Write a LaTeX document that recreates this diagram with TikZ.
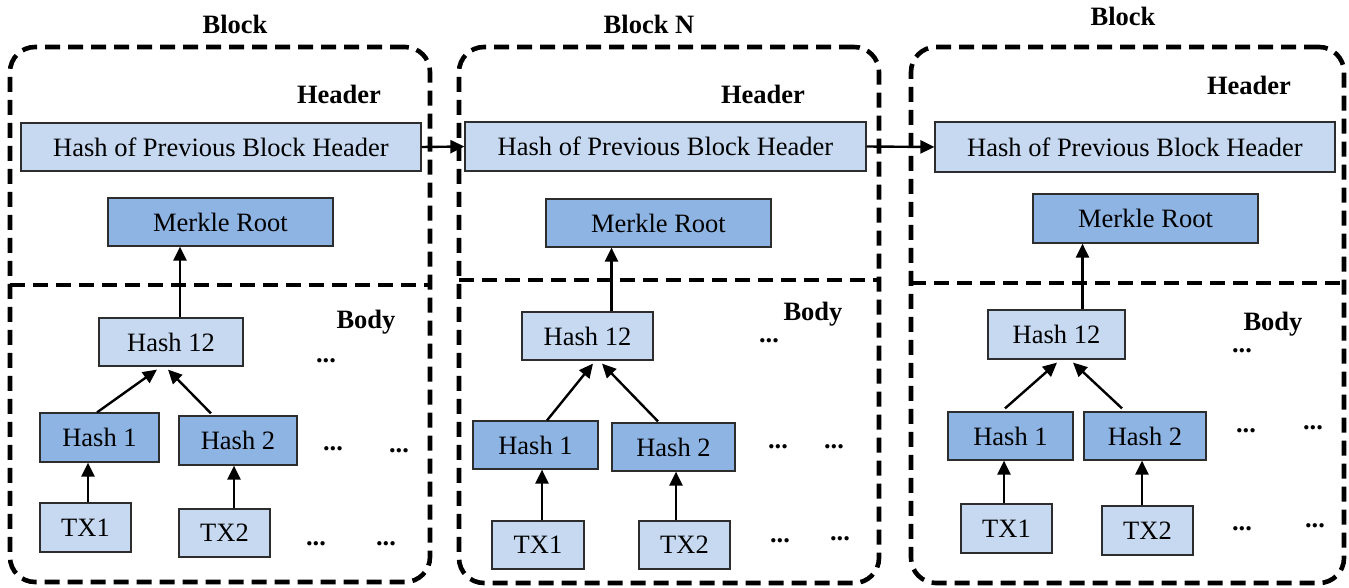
\documentclass[tikz,border=0pt]{standalone}
\usepackage{fontspec}
\setmainfont{Liberation Serif}
\usetikzlibrary{arrows.meta,calc}
\definecolor{hashlight}{RGB}{198,217,241}
\definecolor{hashdark}{RGB}{142,180,227}
\definecolor{boxline}{RGB}{45,45,45}

\begin{document}
\begin{tikzpicture}[x=1pt, y=-1pt, font=\fontsize{26.5}{30}\selectfont,
     blockframe/.style={draw, line width=4.6pt, dash pattern=on 15pt off 8pt, rounded corners=25pt, inner sep=0pt},
     sepline/.style={line width=4.6pt, dash pattern=on 15pt off 8pt},
     lightbox/.style={draw=boxline, line width=1.2pt, fill=hashlight, inner sep=0pt, minimum height=48pt},
     darkbox/.style={lightbox, fill=hashdark},
     boldtag/.style={font=\fontsize{26.5}{30}\selectfont\bfseries, inner sep=0pt},
     moredots/.style={boldtag, anchor=base},
     link/.style={line width=2.4pt, -{Triangle[length=14pt,width=13pt]}},]

   \useasboundingbox (0,0) rectangle (1349,588);

   % block frames and header/body split
   \node[blockframe, minimum width=420pt, minimum height=535pt] (blk1) at (220,314.5) {};
   \node[blockframe, minimum width=420pt, minimum height=536pt] (blk2) at (669,315) {};
   \node[blockframe, minimum width=433pt, minimum height=536pt] (blk3) at (1127.5,315) {};
   \coordinate (s1) at (10,285);   \coordinate (s1e) at (430,285);
   \coordinate (s2) at (459,280);  \coordinate (s2e) at (879,280);
   \coordinate (s3) at (911,283);  \coordinate (s3e) at (1344,283);
   \draw[sepline] (s1) -- (s1e);
   \draw[sepline] (s2) -- (s2e);
   \draw[sepline] (s3) -- (s3e);

   \node[boldtag] (title1) at (235,24) {Block};
   \node[boldtag] (title2) at (649,24) {Block N};
   \node[boldtag] (title3) at (1123,16) {Block};
   \node[boldtag] (head1) at (339,94) {Header};
   \node[boldtag] (head2) at (763,94) {Header};
   \node[boldtag] (head3) at (1249,85) {Header};
   \node[boldtag] (body1) at (366,322) {Body};
   \node[boldtag] (body2) at (813,314) {Body};
   \node[boldtag] (body3) at (1273,324) {Body};

   % block 1
   \node[lightbox, minimum width=400pt] (prev1) at (221,147) {Hash of Previous Block Header};
   \node[darkbox, minimum width=225pt] (root1) at (220.5,222) {Merkle Root};
   \node[lightbox, minimum width=144pt] (h12a) at (171,342) {Hash 12};
   \node[darkbox, minimum width=119pt, minimum height=49pt] (h1a) at (99.5,437.5) {Hash 1};
   \node[darkbox, minimum width=118pt, minimum height=49pt] (h2a) at (238,440.5) {Hash 2};
   \node[lightbox, minimum width=91pt, minimum height=49pt] (tx1a) at (85.5,527.5) {TX1};
   \node[lightbox, minimum width=91pt] (tx2a) at (224.5,533) {TX2};
   \node[moredots] (d1a) at (326,362) {...};
   \node[moredots] (d2a) at (333,450) {...};
   \node[moredots] (d3a) at (399,452) {...};
   \node[moredots] (d4a) at (316,545) {...};
   \node[moredots] (d5a) at (386,545) {...};

   % block N
   \node[lightbox, minimum width=401pt, minimum height=49pt] (prev2) at (665.5,146.5) {Hash of Previous Block Header};
   \node[darkbox, minimum width=225pt] (root2) at (658.5,223) {Merkle Root};
   \node[lightbox, minimum width=131pt] (h12b) at (587.5,336) {Hash 12};
   \node[darkbox, minimum width=125pt] (h1b) at (535.5,445) {Hash 1};
   \node[darkbox, minimum width=123pt] (h2b) at (673.5,447) {Hash 2};
   \node[lightbox, minimum width=92pt] (tx1b) at (538,545) {TX1};
   \node[lightbox, minimum width=91pt] (tx2b) at (684.5,545) {TX2};
   \node[moredots] (d1b) at (769,342) {...};
   \node[moredots] (d2b) at (778,448) {...};
   \node[moredots] (d3b) at (834,448) {...};
   \node[moredots] (d4b) at (780,542) {...};
   \node[moredots] (d5b) at (840,540) {...};

   % block 3
   \node[lightbox, minimum width=400pt, minimum height=50pt] (prev3) at (1135,147) {Hash of Previous Block Header};
   \node[darkbox, minimum width=225pt, minimum height=49pt] (root3) at (1145.5,218.5) {Merkle Root};
   \node[lightbox, minimum width=137pt, minimum height=49pt] (h12c) at (1056.5,334.5) {Hash 12};
   \node[darkbox, minimum width=125pt] (h1c) at (1010.5,436) {Hash 1};
   \node[darkbox, minimum width=122pt] (h2c) at (1145,436) {Hash 2};
   \node[lightbox, minimum width=91pt, minimum height=49pt] (tx1c) at (1006.5,528.5) {TX1};
   \node[lightbox, minimum width=91pt, minimum height=49pt] (tx2c) at (1147.5,530.5) {TX2};
   \node[moredots] (d1c) at (1242,352) {...};
   \node[moredots] (d2c) at (1246,432) {...};
   \node[moredots] (d3c) at (1313,429) {...};
   \node[moredots] (d4c) at (1242,530) {...};
   \node[moredots] (d5c) at (1315,527) {...};

   % chain links
   \draw[link] (prev1.east) -- (prev2.west);
   \draw[link] (prev2.east) -- (prev3.west);

   % merkle trees
   \draw[link] ([xshift=9pt]h12a.north) -- ([xshift=9pt]h12a.north |- root1.south);
   \draw[link] ($(h1a.north)+(-2.5,0)$) -- ($(h12a.south)+(-14,3)$);
   \draw[link] ($(h2a.north)+(-27,-2)$) -- ($(h12a.south)+(-3,3)$);
   \draw[link] ([xshift=2.5pt]tx1a.north) -- ([xshift=2.5pt]tx1a.north |- h1a.south);
   \draw[link] ([xshift=9.5pt]tx2a.north) -- ([xshift=9.5pt]tx2a.north |- h2a.south);

   \draw[link] ([xshift=24pt]h12b.north) -- ([xshift=24pt]h12b.north |- root2.south);
   \draw[link] ($(h1b.north)+(11.5,0)$) -- ($(h12b.south)+(5.5,3)$);
   \draw[link] ($(h2b.north)+(-15.5,-1)$) -- ($(h12b.south)+(14.5,3)$);
   \draw[link] ([xshift=4pt]tx1b.north) -- ([xshift=4pt]tx1b.north |- h1b.south);
   \draw[link] ([xshift=-8.5pt]tx2b.north) -- ([xshift=-8.5pt]tx2b.north |- h2b.south);

   \draw[link] ([xshift=26pt]h12c.north) -- ([xshift=26pt]h12c.north |- root3.south);
   \draw[link] ($(h1c.north)+(-5.5,-3)$) -- ($(h12c.south)+(0.5,3)$);
   \draw[link] ($(h2c.north)+(-23,-3)$) -- ($(h12c.south)+(16.5,3)$);
   \draw[link] ([xshift=-2.5pt]tx1c.north) -- ([xshift=-2.5pt]tx1c.north |- h1c.south);
   \draw[link] ([xshift=-5.5pt]tx2c.north) -- ([xshift=-5.5pt]tx2c.north |- h2c.south);
\end{tikzpicture}
\end{document}
